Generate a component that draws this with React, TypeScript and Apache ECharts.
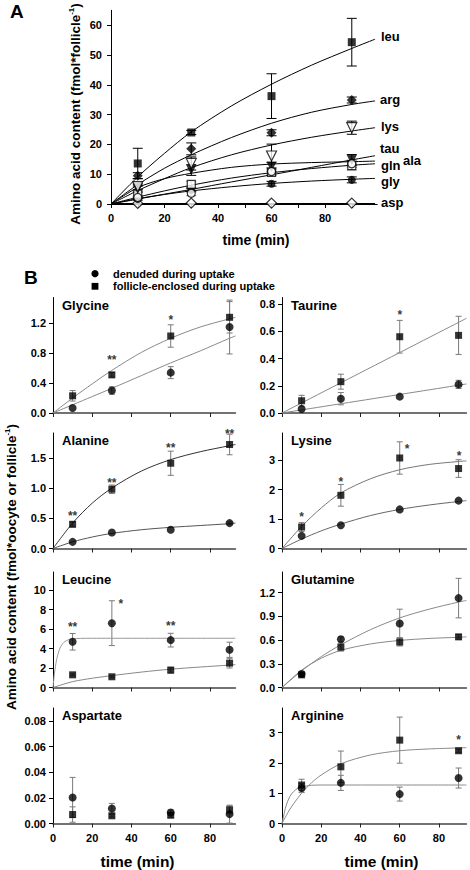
import React, { useEffect, useRef } from 'react';
import * as echarts from 'echarts';

const FONT = '"Liberation Sans", Arial, Helvetica, sans-serif';
const TIMES = [10, 30, 60, 90];

// ---------------- Panel A (fmol / follicle) ----------------
const A_LEU = [13.6, 24.0, 36.2, 54.3];
const A_LEU_SE = [5.1, 0.7, 7.5, 8.0];
const A_ARG = [9.5, 18.5, 23.9, 34.9];
const A_ARG_SE = [1.0, 2.0, 1.0, 1.0];
const A_LYS = [5.8, 13.6, 16.1, 25.6];
const A_LYS_SE = [1.0, 2.2, 4.0, 2.2];
const A_TAU = [2.2, 3.6, 10.9, 13.5];
const A_TAU_SE = [0.5, 0.8, 1.2, 1.2];
const A_ALA = [5.0, 11.4, 12.5, 14.8];
const A_ALA_SE = [1.0, 1.8, 1.5, 1.8];
const A_GLN = [3.3, 6.6, 10.6, 12.9];
const A_GLN_SE = [0.8, 1.0, 1.0, 1.5];
const A_GLY = [1.7, 4.7, 6.8, 8.1];
const A_GLY_SE = [0.4, 0.6, 0.8, 1.0];
const A_ASP = [0.2, 0.3, 0.3, 0.3];
const A_ASP_SE = [0, 0, 0, 0];

const A_FIT_T = [0, 10, 20, 30, 45, 60, 75, 90, 98.7];
const A_LEU_FIT = [0, 9.1, 17.0, 24.2, 32.9, 40.2, 46.6, 52.2, 55.3];
const A_ARG_FIT = [0, 6.5, 12.0, 16.5, 22.3, 27.1, 30.8, 33.4, 34.6];
const A_LYS_FIT = [0, 4.5, 8.5, 12.2, 16.5, 19.8, 22.4, 24.5, 25.6];
const A_TAU_FIT = [0, 1.65, 3.3, 4.9, 7.4, 9.8, 12.3, 14.8, 16.2];
const A_ALA_FIT = [0, 5.5, 8.5, 10.3, 12.3, 13.4, 13.9, 14.2, 14.4];
const A_GLN_FIT = [0, 2.3, 4.4, 6.3, 8.7, 10.5, 11.9, 13.0, 13.5];
const A_GLY_FIT = [0, 1.8, 3.2, 4.4, 5.8, 6.9, 7.7, 8.3, 8.6];
const A_ASP_FIT = [0, 0, 0, 0, 0, 0, 0, 0, 0];

const A_XTICKS = [0, 10, 20, 30, 40, 50, 60, 70, 80, 90];
const A_XLABELS = [0, 20, 40, 60, 80];
const A_YTICKS = [0, 10, 20, 30, 40, 50, 60];

// ---------------- Panel B (fmol / oocyte or follicle) ----------------
const GLY_DEN = [0.067, 0.30, 0.54, 1.15];
const GLY_DEN_SE = [0, 0.05, 0.08, 0.36];
const GLY_FOL = [0.23, 0.51, 1.03, 1.28];
const GLY_FOL_SE = [0.07, 0.03, 0.15, 0.21];
const GLY_FIT_T = [0, 10, 20, 30, 45, 60, 75, 90, 93];
const GLY_DEN_FIT = [0, 0.11, 0.22, 0.33, 0.5, 0.67, 0.83, 1.0, 1.03];
const GLY_FOL_FIT = [0, 0.2, 0.39, 0.57, 0.81, 1.0, 1.15, 1.26, 1.28];
const GLY_YTICKS = [0, 0.4, 0.8, 1.2];
const GLY_STARS: [number, number, string][] = [[30, 0.75, '**'], [60, 1.29, '*']];

const TAU_DEN = [0.03, 0.105, 0.12, 0.21];
const TAU_DEN_SE = [0, 0.045, 0, 0.03];
const TAU_FOL = [0.09, 0.23, 0.56, 0.57];
const TAU_FOL_SE = [0.04, 0.055, 0.12, 0.14];
const TAU_FIT_T = [0, 94];
const TAU_DEN_FIT = [0, 0.213];
const TAU_FOL_FIT = [0, 0.695];
const TAU_YTICKS = [0, 0.2, 0.4, 0.6, 0.8];
const TAU_STARS: [number, number, string][] = [[60, 0.738, '*']];

const ALA_DEN = [0.11, 0.265, 0.31, 0.42];
const ALA_DEN_SE = [0, 0, 0, 0.02];
const ALA_FOL = [0.40, 0.98, 1.41, 1.72];
const ALA_FOL_SE = [0.04, 0.07, 0.2, 0.17];
const ALA_FIT_T = [0, 10, 20, 30, 45, 60, 75, 90, 93];
const ALA_DEN_FIT = [0, 0.11, 0.19, 0.25, 0.31, 0.35, 0.38, 0.41, 0.42];
const ALA_FOL_FIT = [0, 0.42, 0.75, 1.0, 1.28, 1.47, 1.6, 1.7, 1.72];
const ALA_YTICKS = [0, 0.5, 1.0, 1.5];
const ALA_STARS: [number, number, string][] = [[10, 0.59, '**'], [30, 1.14, '**'], [60, 1.71, '**'], [90, 1.95, '**']];

const LYS_DEN = [0.43, 0.79, 1.33, 1.63];
const LYS_DEN_SE = [0, 0, 0, 0];
const LYS_FOL = [0.73, 1.81, 3.08, 2.72];
const LYS_FOL_SE = [0.15, 0.37, 0.55, 0.3];
const LYS_FIT_T = [0, 10, 20, 30, 45, 60, 75, 90, 94];
const LYS_DEN_FIT = [0, 0.32, 0.6, 0.83, 1.12, 1.33, 1.48, 1.6, 1.63];
const LYS_FOL_FIT = [0, 0.75, 1.38, 1.89, 2.37, 2.68, 2.86, 2.96, 2.98];
const LYS_YTICKS = [0, 1, 2, 3];
const LYS_STARS: [number, number, string][] = [[10, 1.18, '*'], [30, 2.35, '*'], [63.8, 3.48, '*'], [90.3, 3.25, '*']];

const LEU_DEN = [4.69, 6.6, 4.86, 3.87];
const LEU_DEN_SE = [0.85, 2.3, 0.7, 0.78];
const LEU_FOL = [1.3, 1.1, 1.78, 2.5];
const LEU_FOL_SE = [0.1, 0.1, 0.3, 0.5];
const LEU_DEN_FIT_T = [0, 0.5, 1, 1.5, 2, 3, 4, 5, 6, 8, 10, 14, 20, 93];
const LEU_DEN_FIT = [0, 1.02, 1.83, 2.48, 3.0, 3.74, 4.22, 4.52, 4.71, 4.91, 4.99, 5.04, 5.05, 5.05];
const LEU_FOL_FIT_T = [0, 10, 20, 30, 45, 60, 75, 90, 93];
const LEU_FOL_FIT = [0, 0.6, 0.95, 1.22, 1.58, 1.88, 2.1, 2.3, 2.35];
const LEU_YTICKS = [0, 2, 4, 6, 8, 10];
const LEU_STARS: [number, number, string][] = [[10, 6.5, '**'], [34.6, 8.9, '*'], [60, 6.6, '**']];

const GLN_DEN = [0.17, 0.61, 0.81, 1.13];
const GLN_DEN_SE = [0.02, 0.03, 0.18, 0.25];
const GLN_FOL = [0.16, 0.51, 0.575, 0.64];
const GLN_FOL_SE = [0.02, 0.05, 0.05, 0.03];
const GLN_FIT_T = [0, 10, 20, 30, 45, 60, 75, 90, 94];
const GLN_DEN_FIT = [0, 0.21, 0.39, 0.54, 0.73, 0.88, 0.99, 1.08, 1.1];
const GLN_FOL_FIT = [0, 0.22, 0.37, 0.47, 0.55, 0.595, 0.62, 0.635, 0.64];
const GLN_YTICKS = [0, 0.3, 0.6, 0.9, 1.2];
const GLN_STARS: [number, number, string][] = [];

const ASP_DEN = [0.0203, 0.0117, 0.0086, 0.0073];
const ASP_DEN_SE = [0.0157, 0.004, 0.002, 0.007];
const ASP_FOL = [0.007, 0.006, 0.0065, 0.0107];
const ASP_FOL_SE = [0.006, 0.001, 0.002, 0.003];
const ASP_YTICKS = [0, 0.02, 0.04, 0.06, 0.08];
const ASP_STARS: [number, number, string][] = [];

const ARG_DEN = [1.17, 1.34, 0.97, 1.5];
const ARG_DEN_SE = [0.15, 0.25, 0.23, 0.33];
const ARG_FOL = [1.27, 1.87, 2.75, 2.4];
const ARG_FOL_SE = [0.19, 0.52, 0.76, 0.05];
const ARG_DEN_FIT_T = [0, 2, 4, 6, 8, 10, 15, 20, 40, 94];
const ARG_DEN_FIT = [0, 0.57, 0.89, 1.06, 1.16, 1.21, 1.26, 1.27, 1.27, 1.27];
const ARG_FOL_FIT_T = [0, 3, 6, 10, 15, 20, 30, 45, 60, 75, 94];
const ARG_FOL_FIT = [0, 0.36, 0.66, 1.0, 1.34, 1.6, 1.97, 2.26, 2.4, 2.46, 2.5];
const ARG_YTICKS = [0, 1, 2, 3];
const ARG_STARS: [number, number, string][] = [[90, 2.86, '*']];

const B_XTICKS = [0, 20, 40, 60, 80];
const B_XLABELS = [0, 20, 40, 60, 80];

const DEN_NAME = 'denuded during uptake';
const FOL_NAME = 'follicle-enclosed during uptake';

// ---------------- layout ----------------
const COL_LEFT = [53, 282];
const COL_XMAX = [93, 94];
const X_PX_PER_MIN = 1.962;
const ROW_TOP = [297.5, 433, 572, 708];
const ROW_H = 115.5;

const zip = (ts: number[], vs: number[]) => ts.map((t, i) => [t, vs[i]]);

const tickLabel = {
  fontSize: 11,
  fontWeight: 'bold',
  fontFamily: FONT,
  color: '#000',
};

function fitSeries(ai: number, ts: number[], vs: number[], color: string, width: number) {
  return {
    type: 'line',
    xAxisIndex: ai,
    yAxisIndex: ai,
    data: zip(ts, vs),
    showSymbol: false,
    symbol: 'none',
    smooth: 0.3,
    lineStyle: { color, width },
    silent: true,
    clip: false,
    z: 2,
  };
}

function errSeries(ai: number, means: number[], ses: number[], color: string, half: number) {
  const data = TIMES.map((t, i) => [t, means[i] - ses[i], means[i] + ses[i], ses[i]]).filter((d) => d[3] > 0);
  return {
    type: 'custom',
    xAxisIndex: ai,
    yAxisIndex: ai,
    silent: true,
    z: 1,
    data,
    renderItem: (_p: any, api: any) => {
      const t = api.value(0);
      const lo = api.coord([t, api.value(1)]);
      const hi = api.coord([t, api.value(2)]);
      const st = { stroke: color, lineWidth: 1 };
      return {
        type: 'group',
        children: [
          { type: 'line', shape: { x1: lo[0], y1: lo[1], x2: hi[0], y2: hi[1] }, style: st },
          { type: 'line', shape: { x1: hi[0] - half, y1: hi[1], x2: hi[0] + half, y2: hi[1] }, style: st },
          { type: 'line', shape: { x1: lo[0] - half, y1: lo[1], x2: lo[0] + half, y2: lo[1] }, style: st },
        ],
      };
    },
  };
}

function markerSeries(name: string, ai: number, means: number[], symbol: string, size: number, filled: boolean, rotate = 0) {
  return {
    type: 'scatter',
    name,
    xAxisIndex: ai,
    yAxisIndex: ai,
    data: zip(TIMES, means),
    symbol,
    symbolSize: size,
    symbolRotate: rotate,
    itemStyle: filled ? { color: '#000' } : { color: '#fff', borderColor: '#000', borderWidth: 1.2 },
    silent: true,
    clip: false,
    z: 3,
  };
}

function starSeries(ai: number, stars: [number, number, string][]) {
  return {
    type: 'scatter',
    xAxisIndex: ai,
    yAxisIndex: ai,
    symbolSize: 1,
    itemStyle: { color: 'transparent' },
    data: stars.map((s) => ({ value: [s[0], s[1]], label: { formatter: s[2] } })),
    label: { show: true, position: 'inside', offset: [0, 3], fontSize: 12, fontWeight: 'bold', color: '#000', fontFamily: FONT },
    silent: true,
    clip: false,
    z: 4,
  };
}

const A_ROWS = [
  { name: 'leu', mean: A_LEU, se: A_LEU_SE, fit: A_LEU_FIT, symbol: 'rect', size: 8, filled: true, rot: 0, err: '#000', lw: 1 },
  { name: 'arg', mean: A_ARG, se: A_ARG_SE, fit: A_ARG_FIT, symbol: 'diamond', size: 10, filled: true, rot: 0, err: '#000', lw: 1 },
  { name: 'lys', mean: A_LYS, se: A_LYS_SE, fit: A_LYS_FIT, symbol: 'triangle', size: 10, filled: false, rot: 180, err: '#000', lw: 1 },
  { name: 'tau', mean: A_TAU, se: A_TAU_SE, fit: A_TAU_FIT, symbol: 'circle', size: 8, filled: false, rot: 0, err: '#888', lw: 1 },
  { name: 'ala', mean: A_ALA, se: A_ALA_SE, fit: A_ALA_FIT, symbol: 'triangle', size: 10, filled: true, rot: 180, err: '#000', lw: 1 },
  { name: 'gln', mean: A_GLN, se: A_GLN_SE, fit: A_GLN_FIT, symbol: 'rect', size: 8, filled: false, rot: 0, err: '#888', lw: 1 },
  { name: 'gly', mean: A_GLY, se: A_GLY_SE, fit: A_GLY_FIT, symbol: 'circle', size: 8, filled: true, rot: 0, err: '#000', lw: 1 },
  { name: 'asp', mean: A_ASP, se: A_ASP_SE, fit: A_ASP_FIT, symbol: 'diamond', size: 10, filled: false, rot: 0, err: '#000', lw: 2 },
];
const A_LABEL_POS: Record<string, [number, number]> = {
  leu: [381, 36], arg: [380, 99], lys: [381, 126], tau: [380, 148],
  ala: [403, 160], gln: [381, 165], gly: [381, 181], asp: [381, 202],
};

const B_PANELS = [
  { title: 'Glycine', col: 0, row: 0, ymax: 1.545, ticks: GLY_YTICKS, dec: 1, den: GLY_DEN, denSe: GLY_DEN_SE, fol: GLY_FOL, folSe: GLY_FOL_SE, denFitT: GLY_FIT_T, denFit: GLY_DEN_FIT, folFitT: GLY_FIT_T, folFit: GLY_FOL_FIT, stars: GLY_STARS, denLine: '#8a8a8a', folLine: '#8a8a8a' },
  { title: 'Taurine', col: 1, row: 0, ymax: 0.848, ticks: TAU_YTICKS, dec: 1, den: TAU_DEN, denSe: TAU_DEN_SE, fol: TAU_FOL, folSe: TAU_FOL_SE, denFitT: TAU_FIT_T, denFit: TAU_DEN_FIT, folFitT: TAU_FIT_T, folFit: TAU_FOL_FIT, stars: TAU_STARS, denLine: '#8a8a8a', folLine: '#8a8a8a' },
  { title: 'Alanine', col: 0, row: 1, ymax: 1.91, ticks: ALA_YTICKS, dec: 1, den: ALA_DEN, denSe: ALA_DEN_SE, fol: ALA_FOL, folSe: ALA_FOL_SE, denFitT: ALA_FIT_T, denFit: ALA_DEN_FIT, folFitT: ALA_FIT_T, folFit: ALA_FOL_FIT, stars: ALA_STARS, denLine: '#555', folLine: '#333' },
  { title: 'Lysine', col: 1, row: 1, ymax: 3.93, ticks: LYS_YTICKS, dec: 0, den: LYS_DEN, denSe: LYS_DEN_SE, fol: LYS_FOL, folSe: LYS_FOL_SE, denFitT: LYS_FIT_T, denFit: LYS_DEN_FIT, folFitT: LYS_FIT_T, folFit: LYS_FOL_FIT, stars: LYS_STARS, denLine: '#666', folLine: '#777' },
  { title: 'Leucine', col: 0, row: 2, ymax: 11.85, ticks: LEU_YTICKS, dec: 0, den: LEU_DEN, denSe: LEU_DEN_SE, fol: LEU_FOL, folSe: LEU_FOL_SE, denFitT: LEU_DEN_FIT_T, denFit: LEU_DEN_FIT, folFitT: LEU_FOL_FIT_T, folFit: LEU_FOL_FIT, stars: LEU_STARS, denLine: '#999', folLine: '#888' },
  { title: 'Glutamine', col: 1, row: 2, ymax: 1.46, ticks: GLN_YTICKS, dec: 1, den: GLN_DEN, denSe: GLN_DEN_SE, fol: GLN_FOL, folSe: GLN_FOL_SE, denFitT: GLN_FIT_T, denFit: GLN_DEN_FIT, folFitT: GLN_FIT_T, folFit: GLN_FOL_FIT, stars: GLN_STARS, denLine: '#8a8a8a', folLine: '#8a8a8a' },
  { title: 'Aspartate', col: 0, row: 3, ymax: 0.0902, ticks: ASP_YTICKS, dec: 2, den: ASP_DEN, denSe: ASP_DEN_SE, fol: ASP_FOL, folSe: ASP_FOL_SE, denFitT: null, denFit: null, folFitT: null, folFit: null, stars: ASP_STARS, denLine: '#888', folLine: '#888' },
  { title: 'Arginine', col: 1, row: 3, ymax: 3.81, ticks: ARG_YTICKS, dec: 0, den: ARG_DEN, denSe: ARG_DEN_SE, fol: ARG_FOL, folSe: ARG_FOL_SE, denFitT: ARG_DEN_FIT_T, denFit: ARG_DEN_FIT, folFitT: ARG_FOL_FIT_T, folFit: ARG_FOL_FIT, stars: ARG_STARS, denLine: '#8a8a8a', folLine: '#8a8a8a' },
];

function boldText(text: string, x: number, y: number, size: number, align = 'left', extra: any = {}) {
  return {
    type: 'text',
    x,
    y,
    silent: true,
    ...extra,
    style: { text, fill: '#000', fontSize: size, fontWeight: 'bold', fontFamily: FONT, align, verticalAlign: 'middle' },
  };
}

function yNameText(main: string, x: number, y: number) {
  const base = { fontSize: 13.5, fontWeight: 'bold', fontFamily: FONT, fill: '#000', lineHeight: 16 };
  return {
    type: 'text',
    x,
    y,
    rotation: Math.PI / 2,
    silent: true,
    style: {
      text: `{a|${main}}{s|-1}{a|)}`,
      align: 'center',
      verticalAlign: 'middle',
      rich: {
        a: base,
        s: { fontSize: 8, fontWeight: 'bold', fontFamily: FONT, fill: '#000', verticalAlign: 'top', lineHeight: 10 },
      },
    },
  };
}

function buildOption() {
  const grid: any[] = [];
  const xAxis: any[] = [];
  const yAxis: any[] = [];
  const series: any[] = [];
  const graphic: any[] = [];

  // ----- Panel A -----
  grid.push({ left: 111, top: 10.3, width: 266.2, height: 193.7 });
  xAxis.push({
    gridIndex: 0, type: 'value', min: 0, max: 99.5,
    axisLine: { show: true, onZero: false, lineStyle: { color: '#000', width: 1 } },
    axisTick: { show: true, length: 4, customValues: A_XTICKS, lineStyle: { color: '#000' } },
    axisLabel: { show: true, customValues: A_XLABELS, margin: 8, ...tickLabel },
    splitLine: { show: false },
  });
  yAxis.push({
    gridIndex: 0, type: 'value', min: 0, max: 65,
    axisLine: { show: true, onZero: false, lineStyle: { color: '#000', width: 1 } },
    axisTick: { show: true, length: 4, customValues: A_YTICKS, lineStyle: { color: '#000' } },
    axisLabel: { show: true, customValues: A_YTICKS, margin: 9, ...tickLabel },
    splitLine: { show: false },
  });
  A_ROWS.forEach((r) => {
    series.push(fitSeries(0, A_FIT_T, r.fit, '#000', r.lw));
    series.push(errSeries(0, r.mean, r.se, r.err, 5));
  });
  A_ROWS.slice().reverse().forEach((r) => {
    series.push(markerSeries(r.name, 0, r.mean, r.symbol, r.size, r.filled, r.rot));
  });
  A_ROWS.forEach((r) => {
    const p = A_LABEL_POS[r.name];
    graphic.push(boldText(r.name, p[0], p[1], 13));
  });

  // ----- Panel B -----
  B_PANELS.forEach((p, k) => {
    const ai = k + 1;
    const left = COL_LEFT[p.col];
    const top = ROW_TOP[p.row];
    const xmax = COL_XMAX[p.col];
    const bottomRow = p.row === 3;
    grid.push({ left, top, width: xmax * X_PX_PER_MIN, height: ROW_H });
    xAxis.push({
      gridIndex: ai, type: 'value', min: 0, max: xmax,
      axisLine: { show: true, onZero: false, lineStyle: { color: '#444', width: 1.5 } },
      axisTick: { show: true, length: 4, customValues: B_XTICKS, lineStyle: { color: '#222' } },
      axisLabel: { show: bottomRow, customValues: B_XLABELS, margin: 9, ...tickLabel },
      splitLine: { show: false },
    });
    yAxis.push({
      gridIndex: ai, type: 'value', min: 0, max: p.ymax,
      axisLine: { show: true, onZero: false, lineStyle: { color: '#000', width: 1 } },
      axisTick: { show: true, length: 4, customValues: p.ticks, lineStyle: { color: '#000' } },
      axisLabel: { show: true, customValues: p.ticks, margin: 7, formatter: (v: number) => v.toFixed(p.dec), ...tickLabel },
      splitLine: { show: false },
    });
    if (p.denFit && p.denFitT) series.push(fitSeries(ai, p.denFitT, p.denFit, p.denLine, 1));
    if (p.folFit && p.folFitT) series.push(fitSeries(ai, p.folFitT, p.folFit, p.folLine, 1));
    series.push(errSeries(ai, p.den, p.denSe, '#7a7a7a', 3));
    series.push(errSeries(ai, p.fol, p.folSe, '#7a7a7a', 3));
    series.push(markerSeries(FOL_NAME, ai, p.fol, 'rect', 7, true));
    series.push(markerSeries(DEN_NAME, ai, p.den, 'circle', 8, true));
    series.push(starSeries(ai, p.stars));
    graphic.push(boldText(p.title, left + 9, top + 7.5, 13));
  });

  // ----- texts -----
  graphic.push(boldText('A', 10, 11, 19));
  graphic.push(boldText('B', 24, 277, 19));
  graphic.push(boldText('time (min)', 256, 239.5, 14, 'center'));
  graphic.push(boldText('time (min)', 137.5, 861, 15.5, 'center'));
  graphic.push(boldText('time (min)', 381.5, 861, 15.5, 'center'));
  graphic.push(yNameText('Amino acid content (fmol*follicle', 75, 114));
  graphic.push(yNameText('Amino acid content (fmol*oocyte or follicle', 11, 567));

  // ----- legend (B) -----
  graphic.push({ type: 'circle', silent: true, shape: { cx: 95, cy: 273.7, r: 3.6 }, style: { fill: '#000' } });
  graphic.push({ type: 'rect', silent: true, shape: { x: 91.6, y: 282.9, width: 6.8, height: 6.8 }, style: { fill: '#000' } });
  graphic.push(boldText(DEN_NAME, 113, 273.7, 11));
  graphic.push(boldText(FOL_NAME, 113, 286.3, 11));

  return {
    animation: false,
    backgroundColor: '#fff',
    grid,
    xAxis,
    yAxis,
    series,
    graphic,
  };
}

export default function App() {
  const ref = useRef<HTMLDivElement>(null);
  useEffect(() => {
    if (!ref.current) return;
    const chart = echarts.init(ref.current, null, { renderer: 'svg' });
    chart.setOption(buildOption() as any);
    return () => chart.dispose();
  }, []);
  return (
    <div
      ref={ref}
      style={{ position: 'absolute', left: 0, top: 0, width: 470, height: 870, background: '#fff' }}
    />
  );
}
